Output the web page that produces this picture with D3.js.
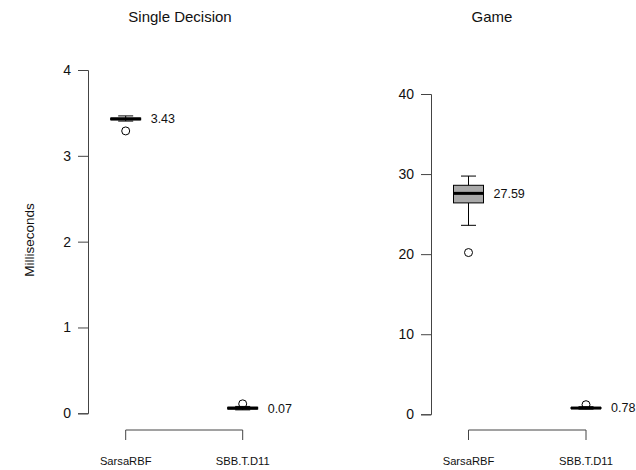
<!DOCTYPE html>
<html><head><meta charset="utf-8">
<script src="https://cdn.jsdelivr.net/npm/d3@7"></script>
<style>body{margin:0;background:#fff}svg{display:block;font-family:"Liberation Sans",Arial,sans-serif}</style>
</head><body><svg id="c" width="636" height="470"></svg>
<script>
const categories = ["SarsaRBF", "SBB.T.D11"];
const panelTitles = ["Single Decision", "Game"];
// [lower whisker, q1, median, q3, upper whisker]
const singleStats = [[3.405, 3.42, 3.43, 3.44, 3.465], [0.04, 0.05, 0.06, 0.07, 0.08]];
const singleOutliers = [[3.29], [0.11]];
const singleLabels = ["3.43", "0.07"];
const gameStats = [[23.6, 26.4, 27.59, 28.6, 29.75], [0.65, 0.72, 0.78, 0.85, 0.95]];
const gameOutliers = [[20.2], [1.2]];
const gameLabels = ["27.59", "0.78"];
const singleTicks = [0, 1, 2, 3, 4];
const gameTicks = [0, 10, 20, 30, 40];
const boxFills = [["#000", "#000"], ["#a9a9a9", "#a9a9a9"]];

const svg = d3.select("#c");
const panels = [
  {title: panelTitles[0], stats: singleStats, out: singleOutliers, labels: singleLabels, ticks: singleTicks,
   x: d3.scalePoint().domain(categories).range([125.7, 242.7]), y: d3.scaleLinear().domain([0, 4]).range([413.3, 70]),
   axisX: 88, titleX: 180},
  {title: panelTitles[1], stats: gameStats, out: gameOutliers, labels: gameLabels, ticks: gameTicks,
   x: d3.scalePoint().domain(categories).range([468.5, 586]), y: d3.scaleLinear().domain([0, 40]).range([414.3, 94]),
   axisX: 431, titleX: 492}
];
const bw = 30;
panels.forEach((p, pi) => {
  const g = svg.append("g");
  g.append("text").attr("x", p.titleX).attr("y", 21.5).attr("text-anchor", "middle")
    .attr("font-size", 15).attr("fill", "#111").text(p.title);
  // y axis
  const ax = g.append("g").attr("transform", `translate(${p.axisX},0)`)
    .call(d3.axisLeft(p.y).tickValues(p.ticks).tickSize(10).tickPadding(7).tickFormat(d3.format("d")));
  ax.select(".domain").attr("stroke", "#444");
  ax.selectAll(".tick line").attr("stroke", "#444");
  ax.selectAll("text").attr("font-size", 14).attr("fill", "#111").attr("font-family", "Liberation Sans, Arial, sans-serif");
  // x bracket axis
  const x0 = p.x(categories[0]), x1 = p.x(categories[1]);
  g.append("path").attr("d", `M${x0},440V430H${x1}V440`).attr("fill", "none").attr("stroke", "#444");
  categories.forEach(c => {
    g.append("text").attr("x", p.x(c)).attr("y", 465).attr("text-anchor", "middle")
      .attr("font-size", 11.2).attr("fill", "#111").text(c);
  });
  // boxes
  categories.forEach((c, i) => {
    const s = p.stats[i], cx = p.x(c), y = p.y;
    const bg = g.append("g");
    bg.append("line").attr("x1", cx).attr("x2", cx).attr("y1", y(s[0])).attr("y2", y(s[1])).attr("stroke", "#000");
    bg.append("line").attr("x1", cx).attr("x2", cx).attr("y1", y(s[3])).attr("y2", y(s[4])).attr("stroke", "#000");
    [s[0], s[4]].forEach(v => bg.append("line").attr("x1", cx - bw / 4).attr("x2", cx + bw / 4)
      .attr("y1", y(v)).attr("y2", y(v)).attr("stroke", "#000"));
    bg.append("rect").attr("x", cx - bw / 2).attr("width", bw).attr("y", y(s[3]))
      .attr("height", Math.max(0.5, y(s[1]) - y(s[3]))).attr("fill", boxFills[pi][i]).attr("stroke", "#000");
    bg.append("line").attr("x1", cx - bw / 2).attr("x2", cx + bw / 2).attr("y1", y(s[2])).attr("y2", y(s[2]))
      .attr("stroke", "#000").attr("stroke-width", 3);
    p.out[i].forEach(v => bg.append("circle").attr("cx", cx).attr("cy", y(v)).attr("r", 4)
      .attr("fill", "none").attr("stroke", "#000"));
    g.append("text").attr("x", cx + bw / 2 + 10).attr("y", y(s[2])).attr("dy", "0.35em")
      .attr("font-size", 12.5).attr("fill", "#111").text(p.labels[i]);
  });
});
svg.append("text").attr("transform", "translate(34,240) rotate(-90)").attr("text-anchor", "middle")
  .attr("font-size", 13.5).attr("fill", "#111").text("Milliseconds");
</script></body></html>
